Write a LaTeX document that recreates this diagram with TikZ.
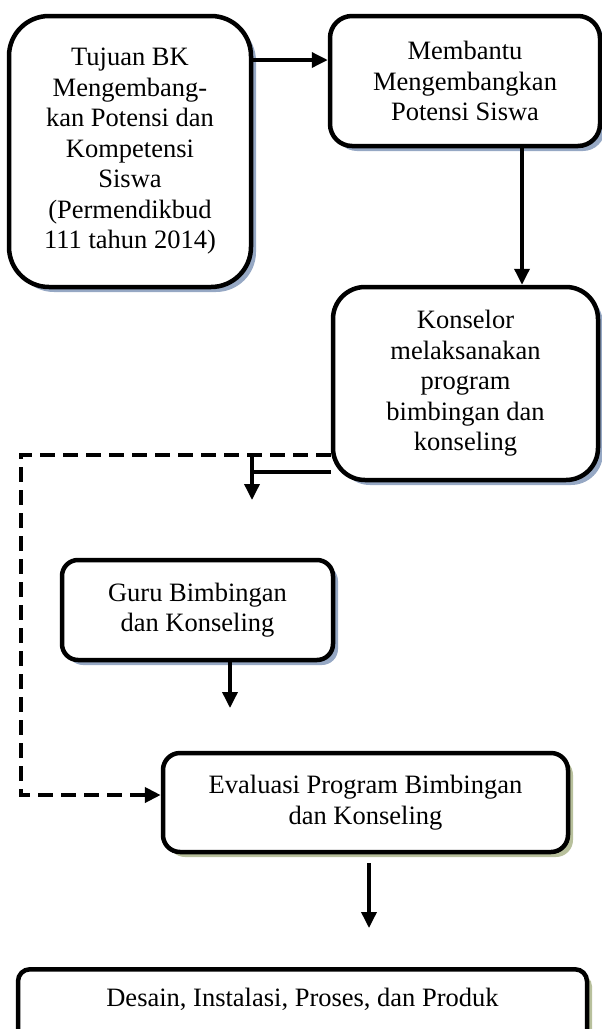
\documentclass[tikz,border=0pt]{standalone}
\usepackage{fontspec}
\setmainfont{Liberation Serif}
\usetikzlibrary{arrows.meta,shadows}
\definecolor{shblue}{RGB}{150,168,196}
\definecolor{sholive}{RGB}{184,192,156}
\begin{document}
\begin{tikzpicture}[x=1pt,y=-1pt,
  box/.style={draw=black, line width=4.5pt, fill=white, align=center, inner sep=0pt,
    font=\fontsize{26.5}{30.5}\selectfont},
  shb/.style={drop shadow={shadow xshift=5pt, shadow yshift=-5pt, fill=shblue, opacity=1}},
  sho/.style={drop shadow={shadow xshift=5pt, shadow yshift=-5pt, fill=sholive, opacity=1}},
  tip/.style={-{Triangle[length=16pt,width=15pt]}},
  arr/.style={line width=3.5pt, tip},
  link/.style={line width=3.5pt},
  dlink/.style={line width=4pt, dash pattern=on 15pt off 8pt},
]
\useasboundingbox (0,0) rectangle (602,1029);
\clip (0,0) rectangle (602,1029);

\node[box, shb, minimum width=242pt, minimum height=271pt, rounded corners=40pt] (A) at (130,151.5)
  {Tujuan BK\\Mengembang-\\kan Potensi dan\\Kompetensi\\Siswa\\(Permendikbud\\111 tahun 2014)};
\node[box, shb, minimum width=270pt, minimum height=130pt, rounded corners=22pt] (B) at (465,81)
  {Membantu\\Mengembangkan\\Potensi Siswa};
\node[box, shb, minimum width=265pt, minimum height=193pt, rounded corners=32pt] (C) at (465.5,383.5)
  {Konselor\\melaksanakan\\program\\bimbingan dan\\konseling};
\node[box, shb, minimum width=271pt, minimum height=100pt, rounded corners=16pt] (D) at (197.5,610)
  {Guru Bimbingan\\dan Konseling};
\node[box, sho, minimum width=405pt, minimum height=99pt, rounded corners=17pt] (E) at (365.5,802.5)
  {Evaluasi Program Bimbingan\\dan Konseling};
\node[box, sho, minimum width=569pt, text height=37pt, text depth=45pt, rounded corners=12pt,
  anchor=north] (F) at (302.5,967)
  {Desain, Instalasi, Proses, dan Produk};

% A -> B
\coordinate (yAB) at (0,60);
\draw[arr] (A.east |- yAB) -- (B.west |- yAB);
% B -> C
\coordinate (xBC) at (522,0);
\draw[arr] (B.south -| xBC) -- (C.north -| xBC);
% solid elbow from C
\coordinate (cs) at (0,472);
\coordinate (el) at (252,472);
\coordinate (et) at (252,456);
\coordinate (eb) at (252,500);
\draw[link] (C.west |- cs) -- (el);
\draw[arr] (et) -- (eb);
% dashed from C to E
\coordinate (dy) at (0,455);
\coordinate (d1) at (21,455);
\coordinate (d2) at (21,795);
\draw[dlink, tip] (C.west |- dy) -- (d1) -- (d2) -- (E.west |- d2);
% D -> (free)
\coordinate (de) at (230,708);
\draw[arr] (D.south -| de) -- (de);
% E -> F (free ends)
\coordinate (ef1) at (369,863);
\coordinate (ef2) at (369,928);
\draw[arr] (ef1) -- (ef2);
\end{tikzpicture}
\end{document}
